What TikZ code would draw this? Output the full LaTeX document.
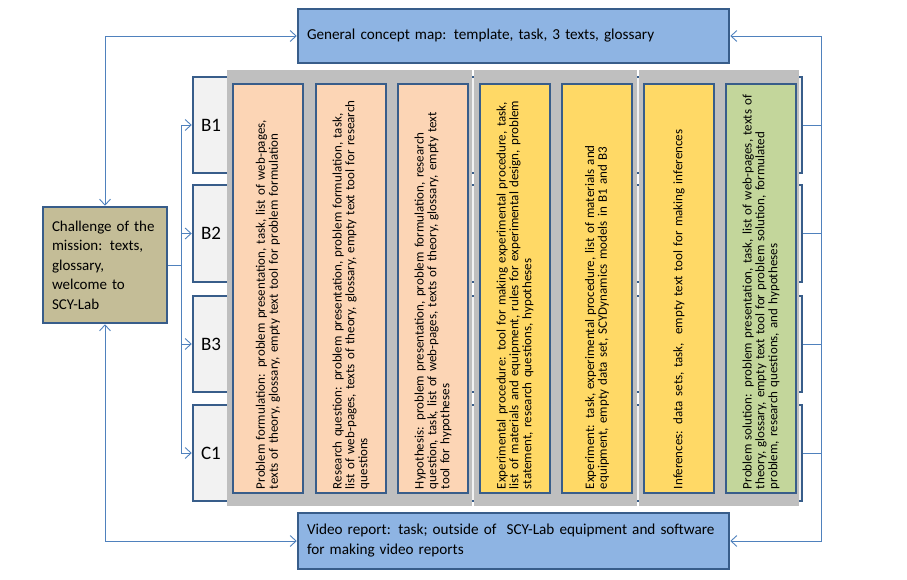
\documentclass[tikz,border=0pt]{standalone}
\usepackage{fontspec}
\setmainfont{Carlito}
\usetikzlibrary{arrows.meta}
\definecolor{bdr}{HTML}{385D8A}
\definecolor{lblue}{HTML}{8EB4E3}
\definecolor{ctan}{HTML}{C4BD97}
\definecolor{bgray}{HTML}{F2F2F2}
\definecolor{pgray}{HTML}{BFBFBF}
\definecolor{peach}{HTML}{FCD5B5}
\definecolor{cgold}{HTML}{FFD966}
\definecolor{colive}{HTML}{C3D69B}
\definecolor{cline}{HTML}{4F81BD}
\tikzset{
  box/.style={draw=bdr, line width=2.5pt, rectangle, inner sep=0pt},
  bluebox/.style={box, fill=lblue, align=left, inner xsep=9pt, font=\fontsize{15.2}{20}\selectfont},
  rowbox/.style={box, fill=bgray, minimum width=609pt},
  blabel/.style={font=\fontsize{19}{22}\selectfont, inner sep=0pt},
  panel/.style={fill=pgray, draw=none},
  colbox/.style={box, rotate=90, minimum width=409pt, minimum height=70pt, inner xsep=4pt, text width=401pt, align=left, font=\fontsize{13}{12.8}\selectfont},
  conn/.style={draw=cline, line width=0.9pt},
  >={Straight Barb[length=6pt,width=11pt]}
}
\begin{document}
\begin{tikzpicture}[x=1pt,y=-1pt]
\useasboundingbox (0,0) rectangle (907,580);
% row boxes
\node[rowbox, minimum height=96pt] (B1) at (497.5,125) {};
\node[rowbox, minimum height=97pt] (B2) at (497.5,233.5) {};
\node[rowbox, minimum height=96pt] (B3) at (497.5,344) {};
\node[rowbox, minimum height=96pt] (C1) at (497.5,453) {};
\node[blabel] (lB1) at (211,125) {B1};
\node[blabel] (lB2) at (211,233.5) {B2};
\node[blabel] (lB3) at (211,344) {B3};
\node[blabel] (lC1) at (211,453) {C1};
% gray panels
\fill[panel] (227,70) rectangle (472,506);
\fill[panel] (474,70) rectangle (637,506);
\fill[panel] (639,70) rectangle (799,506);
% columns
\node[colbox, fill=peach] (k1) at (268,288.5) {Problem formulation: problem presentation, task, list of web-pages,\\texts of theory, glossary, empty text tool for problem formulation};
\node[colbox, fill=peach] (k2) at (351,288.5) {Research question: problem presentation, problem formulation, task,\\list of web-pages, texts of theory, glossary, empty text tool for research\\questions};
\node[colbox, fill=peach] (k3) at (433,288.5) {Hypothesis: problem presentation, problem formulation, research\\question, task, list of web-pages, texts of theory, glossary, empty text\\tool for hypotheses};
\node[colbox, fill=cgold] (k4) at (515,288.5) {Experimental procedure: tool for making experimental procedure, task,\\list of materials and equipment, rules for experimental design, problem\\statement, research questions, hypotheses};
\node[colbox, fill=cgold] (k5) at (597,288.5) {Experiment: task, experimental procedure, list of materials and\\equipment, empty data set, SCYDynamics models in B1 and B3};
\node[colbox, fill=cgold] (k6) at (679,288.5) {Inferences: data sets, task,~ empty text tool for making inferences};
\node[colbox, fill=colive] (k7) at (761,288.5) {Problem solution: problem presentation, task, list of web-pages, texts of\\theory, glossary, empty text tool for problem solution, formulated\\problem, research questions, and hypotheses};
% top, bottom, challenge
\node[bluebox, minimum width=431pt, minimum height=54pt, text width=413pt] (top) at (513.5,36) {General concept map: template, task, 3 texts, glossary};
\node[bluebox, minimum width=431pt, minimum height=56pt, text width=413pt] (vid) at (513.5,541) {Video report: task; outside of~ SCY-Lab equipment and software\\for making video reports};
\node[box, fill=ctan, minimum width=124pt, minimum height=116pt, inner xsep=9pt, text width=106pt, align=left, font=\fontsize{15}{19.5}\selectfont] (ch) at (105,265) {Challenge of the\\mission: texts,\\glossary,\\welcome to\\SCY-Lab};
% connectors
\coordinate (rx) at (821,0);
\draw[conn,<->] (top.west) -| (ch.north);
\draw[conn,<->] (vid.west) -| (ch.south);
\foreach \b in {B1,B2,B3,C1}{
  \draw[conn,->] (ch.east) -- ++(13,0) |- (\b.west);
  \draw[conn] (\b.east) -- (\b.east -| rx);
}
\draw[conn,<-] (top.east) -| (B2.east -| rx);
\draw[conn,<-] (vid.east) -| (B2.east -| rx);
\end{tikzpicture}
\end{document}
